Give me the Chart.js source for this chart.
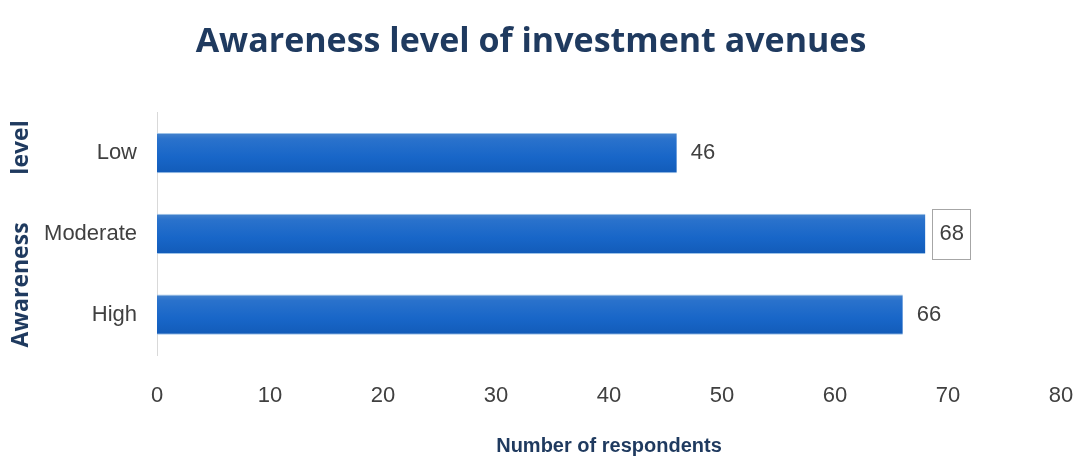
<!DOCTYPE html>
<html>
<head>
<meta charset="utf-8">
<script src="https://cdn.jsdelivr.net/npm/chart.js@4/dist/chart.umd.min.js"></script>
<style>
  html, body { margin: 0; padding: 0; background: #fff; }
  #wrap { width: 1074px; height: 462px; }
</style>
</head>
<body>
<div id="wrap"><canvas id="awarenessChart"></canvas></div>
<script>
const levels = ["Low", "Moderate", "High"];
const respondents = [46, 68, 66];
const xTicks = [0, 10, 20, 30, 40, 50, 60, 70, 80];

const narrow = "'Liberation Sans Narrow', 'Arial Narrow', sans-serif";

// gives each bar the soft top-to-bottom shading of the original
const barShade = {
    id: "barShade",
    beforeDatasetsDraw(chart) {
        const c = chart.ctx;
        chart.getDatasetMeta(0).data.forEach(bar => {
            const top = bar.y - bar.height / 2;
            const g = c.createLinearGradient(0, top, 0, top + bar.height);
            g.addColorStop(0, "#4683cc");
            g.addColorStop(0.15, "#2a72cc");
            g.addColorStop(0.6, "#1866c8");
            g.addColorStop(1, "#125bb8");
            bar.options = Object.assign({}, bar.options, { backgroundColor: g });
        });
    }
};

// draws the value next to each bar, the middle one boxed like the original
const barValues = {
    id: "barValues",
    afterDatasetsDraw(chart) {
        const c = chart.ctx;
        const meta = chart.getDatasetMeta(0);
        c.save();
        c.font = "22px " + narrow;
        c.fillStyle = "#404040";
        c.textAlign = "left";
        c.textBaseline = "middle";
        meta.data.forEach((bar, i) => {
            const txt = String(respondents[i]);
            const x = bar.x + 14;
            c.fillText(txt, x, bar.y);
            if (i === 1) {
                const w = c.measureText(txt).width;
                c.strokeStyle = "#a6a6a6";
                c.lineWidth = 1;
                c.strokeRect(Math.round(x - 7) + 0.5, Math.round(bar.y - 25) + 0.5, Math.round(w + 14), 50);
            }
        });
        c.restore();
    }
};

new Chart(document.getElementById("awarenessChart"), {
    type: "bar",
    data: {
        labels: levels,
        datasets: [{
            data: respondents,
            backgroundColor: "#1866c8",
            borderColor: "#9cc2e8",
            borderWidth: { top: 1, bottom: 1, left: 0, right: 0 },
            barPercentage: 0.5,
            categoryPercentage: 1
        }]
    },
    options: {
        indexAxis: "y",
        responsive: true,
        maintainAspectRatio: false,
        animation: false,
        layout: { padding: { left: 0, right: 12, top: 0, bottom: 0 } },
        plugins: {
            legend: { display: false },
            tooltip: { enabled: false },
            title: {
                display: true,
                text: "Awareness level of investment avenues",
                color: "#1f3a5f",
                font: { family: "'Open Sans', sans-serif", size: 34, weight: "bold" },
                padding: { top: 22, bottom: 50 }
            }
        },
        scales: {
            x: {
                min: 0,
                max: 80,
                afterBuildTicks(scale) {
                    scale.ticks = xTicks.map(v => ({ value: v }));
                },
                afterFit(scale) {
                    scale.height = 107;
                    scale.paddingRight = 13;
                    scale.paddingLeft = 0;
                },
                grid: { display: false, drawTicks: false },
                border: { display: false },
                ticks: {
                    color: "#404040",
                    padding: 28,
                    font: { family: narrow, size: 22 }
                },
                title: {
                    display: true,
                    text: "Number of respondents",
                    color: "#1f3a5f",
                    font: { family: narrow, size: 20, weight: "bold" },
                    padding: { top: 0, bottom: 4 }
                }
            },
            y: {
                afterFit(scale) { scale.width = 157; },
                grid: { display: false, drawTicks: false },
                border: { display: true, color: "#d9d9d9" },
                ticks: {
                    color: "#404040",
                    padding: 20,
                    font: { family: narrow, size: 22 }
                },
                title: {
                    display: true,
                    text: "Awareness        level",
                    color: "#1f3a5f",
                    font: { family: "'Open Sans', sans-serif", size: 23, weight: "bold" },
                    padding: { top: 8, bottom: 0 }
                }
            }
        }
    },
    plugins: [barShade, barValues]
});
</script>
</body>
</html>
